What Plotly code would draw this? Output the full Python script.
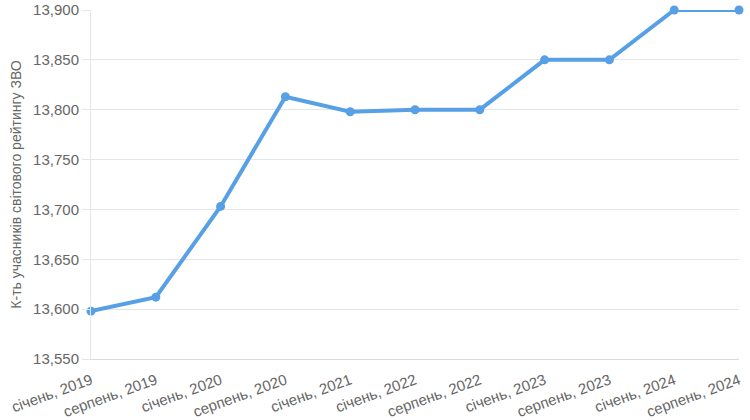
import plotly.graph_objects as go

categories = ["січень, 2019", "серпень, 2019", "січень, 2020", "серпень, 2020",
              "січень, 2021", "січень, 2022", "серпень, 2022", "січень, 2023",
              "серпень, 2023", "січень, 2024", "серпень, 2024"]
values = [13598, 13612, 13703, 13813, 13798, 13800, 13800, 13850, 13850, 13900, 13900]
y_ticks = [13550, 13600, 13650, 13700, 13750, 13800, 13850, 13900]

fig = go.Figure()
fig.add_trace(go.Scatter(
    x=list(range(len(categories))), y=values, mode="lines+markers",
    line=dict(color="#57a0e5", width=4),
    marker=dict(color="#57a0e5", size=9),
    cliponaxis=False,
    hoverinfo="skip",
))

fig.update_layout(
    width=750, height=420,
    margin=dict(l=91, r=11, t=10, b=61, autoexpand=False),
    paper_bgcolor="white", plot_bgcolor="white",
    font=dict(family="Liberation Sans, Arial, sans-serif", color="#666666", size=15),
    showlegend=False,
    xaxis=dict(
        tickmode="array", tickvals=list(range(len(categories))), ticktext=categories,
        range=[0, len(categories) - 1], tickangle=-20, automargin=False,
        ticklabelstandoff=6,
        showgrid=False, showline=True, linecolor="#d9d9d9", linewidth=1,
        ticks="", tickfont=dict(size=15, color="#666666"),
        zeroline=False,
    ),
    yaxis=dict(
        range=[13550, 13900], tickvals=y_ticks, tickformat=",", automargin=False,
        showgrid=True, gridcolor="#e6e6e6", gridwidth=1,
        showline=True, linecolor="#e6e6e6",
        ticks="outside", ticklen=8, tickcolor="#e6e6e6",
        tickfont=dict(size=15, color="#666666"),
        title=dict(text="К-ть учасників світового рейтингу ЗВО", font=dict(size=14, color="#666666"), standoff=8),
        zeroline=False,
    ),
)

fig.write_html("out.html", config={"displayModeBar": False},
               post_script="document.body.style.margin='0';")
